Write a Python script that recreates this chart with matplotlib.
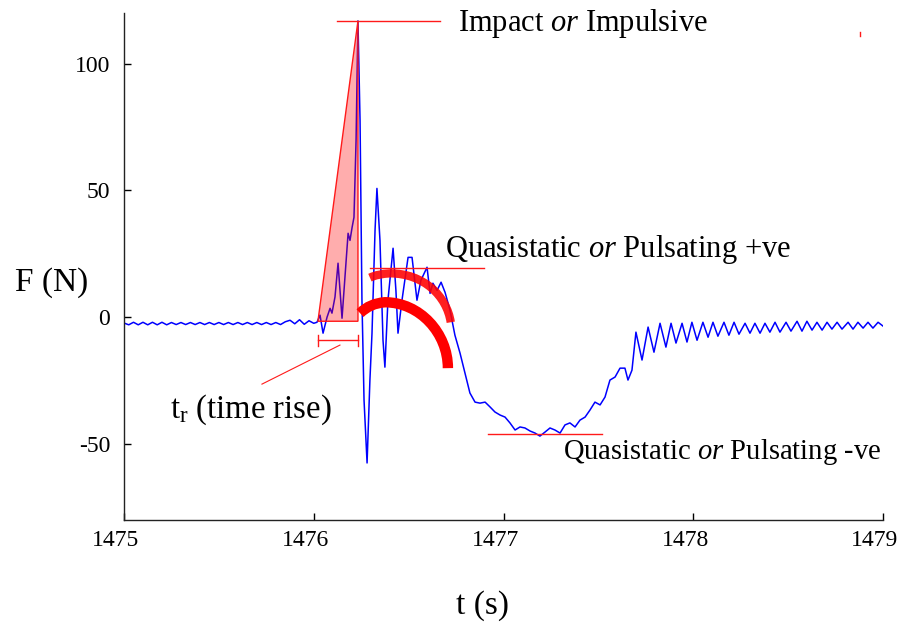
import numpy as np
import matplotlib
matplotlib.use("Agg")
import matplotlib.pyplot as plt
from matplotlib.path import Path
from matplotlib.patches import PathPatch, Polygon
from matplotlib.transforms import ScaledTranslation

# ── Data ───────────────────────────────────────────────────────────────────────
# quiet baseline before the impact
t_base = [1475.000, 1475.025, 1475.050, 1475.075, 1475.100, 1475.125, 1475.150,
          1475.175, 1475.200, 1475.225, 1475.250, 1475.275, 1475.300, 1475.325,
          1475.350, 1475.375, 1475.400, 1475.425, 1475.450, 1475.475, 1475.500,
          1475.525, 1475.550, 1475.575, 1475.600, 1475.625, 1475.650, 1475.675,
          1475.700, 1475.725, 1475.750, 1475.775, 1475.800, 1475.825, 1475.850,
          1475.875, 1475.900, 1475.925, 1475.950, 1475.975, 1476.000]
F_base = [-2.3, -3.0, -2.0, -3.0, -2.0, -3.0, -2.0, -3.0, -2.0, -3.0, -2.1,
          -2.9, -2.1, -2.9, -2.1, -2.9, -2.1, -2.9, -2.1, -2.9, -2.1, -2.9,
          -2.1, -2.9, -2.1, -2.9, -2.1, -2.9, -2.1, -2.9, -2.1, -2.9, -2.1,
          -2.9, -1.8, -1.2, -2.6, -1.0, -2.8, -1.4, -2.4]

# impact, rebound and recovery
t_event = [1476.017, 1476.033, 1476.049, 1476.070, 1476.086, 1476.096, 1476.112,
           1476.128, 1476.149, 1476.181, 1476.191, 1476.202, 1476.212, 1476.223,
           1476.233, 1476.244, 1476.254, 1476.265, 1476.281, 1476.296, 1476.307,
           1476.323, 1476.333, 1476.349, 1476.365, 1476.375, 1476.391, 1476.418,
           1476.433, 1476.444, 1476.465, 1476.497, 1476.518, 1476.544, 1476.565,
           1476.597, 1476.613, 1476.628, 1476.650, 1476.671, 1476.692, 1476.718,
           1476.744, 1476.771, 1476.797, 1476.823, 1476.850, 1476.876, 1476.903,
           1476.929, 1476.955, 1476.982, 1477.008, 1477.034, 1477.061, 1477.087,
           1477.113, 1477.140, 1477.166, 1477.192, 1477.219, 1477.245, 1477.271,
           1477.298, 1477.324, 1477.350, 1477.377, 1477.403, 1477.430, 1477.456,
           1477.482, 1477.509, 1477.535, 1477.561, 1477.588, 1477.614, 1477.640,
           1477.656, 1477.677]
F_event = [-2.0, 0.8, -6.3, 0.0, 3.5, 1.6, 8.0,
           21.3, -0.4, 33.1, 30.3, 35.4, 39.4, 69.7,
           116.9, 77.6, 6.7, -32.7, -57.5, -24.8, -6.3,
           34.3, 50.8, 30.3, -9.1, -19.7, 6.7, 27.2,
           10.6, -6.3, 6.7, 23.6, 23.6, 6.7, 14.6,
           19.7, 9.4, 13.4, 10.6, 13.8, 9.8, 2.8,
           -7.1, -14.2, -22.0, -29.9, -33.5, -33.9, -33.5,
           -35.4, -37.4, -38.6, -39.4, -41.7, -44.5, -43.3,
           -43.7, -44.9, -45.7, -46.9, -45.3, -43.7, -44.5,
           -45.7, -42.5, -41.7, -43.3, -40.6, -39.4, -36.6,
           -33.5, -34.6, -31.5, -24.8, -23.6, -20.1, -20.1,
           -24.8, -20.9]

# decaying ringing back to rest
t_tail = [1477.698, 1477.730, 1477.762, 1477.793, 1477.825, 1477.856, 1477.883,
          1477.909, 1477.941, 1477.967, 1477.993, 1478.020, 1478.051, 1478.078,
          1478.104, 1478.130, 1478.162, 1478.188, 1478.215, 1478.241, 1478.273,
          1478.299, 1478.325, 1478.352, 1478.378, 1478.404, 1478.431, 1478.457,
          1478.489, 1478.515, 1478.547, 1478.573, 1478.599, 1478.626, 1478.652,
          1478.679, 1478.705, 1478.731, 1478.758, 1478.784, 1478.816, 1478.842,
          1478.868, 1478.895, 1478.921, 1478.947, 1478.974, 1479.000]
F_tail = [-5.9, -16.9, -3.9, -13.8, -2.4, -11.8, -2.4,
          -10.2, -2.4, -9.8, -2.0, -9.1, -2.0, -7.9,
          -2.0, -7.5, -2.0, -7.1, -2.0, -6.7, -2.4,
          -6.3, -2.4, -6.3, -2.4, -5.9, -2.0, -5.9,
          -2.0, -5.5, -1.6, -5.5, -1.6, -5.1, -2.0,
          -5.1, -2.0, -4.7, -2.0, -4.7, -2.0, -4.7,
          -2.0, -4.3, -2.0, -4.3, -2.0, -3.5]

X_TICKS = [1475, 1476, 1477, 1478, 1479]
Y_TICKS = [-50, 0, 50, 100]

# annotation geometry (data units)
RISE_START, PEAK_T, PEAK_F, RISE_BASE = 1476.022, 1476.233, 116.9, -1.6
PEAK_LINE = (1476.122, 1476.665)
TR_LEVEL = -9.1
TR_LEADER = ((1475.727, -26.4), (1476.138, -11.0))
POS_LEVEL, POS_SPAN = 19.3, (1476.296, 1476.897)
NEG_LEVEL, NEG_SPAN = -46.1, (1476.918, 1477.519)
# quadratic lead-in, then a quarter-ellipse bend
ARC_POS = [(1476.296, 15.6), (1476.338, 17.1), (1476.401, 17.3),
           (1476.580, 17.3), (1476.701, 8.3), (1476.722, -2.0)]
ARC_NEG = [(1476.244, 1.6), (1476.296, 5.5), (1476.375, 5.9),
           (1476.559, 5.9), (1476.707, -6.3), (1476.707, -20.1)]

# ── Style ──────────────────────────────────────────────────────────────────────
plt.rcParams["font.family"] = ["Liberation Serif", "DejaVu Serif"]
plt.rcParams["mathtext.fontset"] = "custom"
plt.rcParams["mathtext.rm"] = "Liberation Serif"
plt.rcParams["mathtext.it"] = "Liberation Serif:italic"
plt.rcParams["axes.unicode_minus"] = False

RED = "#ff1a1a"

fig = plt.figure(figsize=(9.07, 6.23), dpi=100)
ax = fig.add_axes([124 / 907, 1 - 520 / 623, (883 - 124) / 907, (520 - 13) / 623])

t_all = t_base + t_event + t_tail
F_all = F_base + F_event + F_tail
ax.plot(t_all, F_all, color="#0000ff", lw=1.1, solid_joinstyle="round", zorder=2)

# rise-time triangle
tri = Polygon([(RISE_START, RISE_BASE), (PEAK_T, PEAK_F), (PEAK_T, RISE_BASE)],
              closed=True, facecolor=(1, 0, 0, 0.32), edgecolor=RED, lw=1.0, zorder=3)
ax.add_patch(tri)

# thin reference lines
ax.plot(PEAK_LINE, [PEAK_F, PEAK_F], color=RED, lw=1.0, zorder=3)
ax.plot(POS_SPAN, [POS_LEVEL, POS_LEVEL], color=RED, lw=1.0, zorder=3)
ax.plot(NEG_SPAN, [NEG_LEVEL, NEG_LEVEL], color=RED, lw=1.0, zorder=3)

# t_r bracket
ax.plot([RISE_START, PEAK_T], [TR_LEVEL, TR_LEVEL], color=RED, lw=1.0, zorder=3)
for tt in (RISE_START, PEAK_T):
    ax.plot([tt, tt], [TR_LEVEL - 2.2, TR_LEVEL + 2.2], color=RED, lw=1.0, zorder=3)
ax.plot([TR_LEADER[0][0], TR_LEADER[1][0]], [TR_LEADER[0][1], TR_LEADER[1][1]],
        color=RED, lw=0.8, zorder=3)

# thick arcs
codes = [Path.MOVETO, Path.CURVE3, Path.CURVE3, Path.CURVE4, Path.CURVE4, Path.CURVE4]
ax.add_patch(PathPatch(Path(ARC_POS, codes), facecolor="none", edgecolor="red",
                       lw=6.0, alpha=0.88, capstyle="butt", zorder=4))
ax.add_patch(PathPatch(Path(ARC_NEG, codes), facecolor="none", edgecolor="red",
                       lw=7.5, capstyle="butt", zorder=4))

# stray mark top right
ax.plot([1478.878, 1478.878], [110.8, 112.6], color=RED, lw=1.0)

# annotation texts
ax.text(1476.760, 116.0, r"Impact $\mathit{or}$ Impulsive", fontsize=22,
        ha="left", va="center")
ax.text(1476.692, 26.8, r"Quasistatic $\mathit{or}$ Pulsating +ve", fontsize=22,
        ha="left", va="center")
ax.text(1477.314, -53.1, r"Quasistatic $\mathit{or}$ Pulsating -ve", fontsize=20.6,
        ha="left", va="center")
ax.text(1475.242, -36.6, r"t$_\mathrm{r}$ (time rise)", fontsize=23.5,
        ha="left", va="center")

# axes
ax.set_xlim(1475, 1479)
ax.set_ylim(-80, 120)
ax.set_xticks(X_TICKS)
ax.set_xticklabels([str(v) for v in X_TICKS])
ax.set_yticks(Y_TICKS)
ax.set_yticklabels([str(v) for v in Y_TICKS])
ax.tick_params(axis="both", direction="in", length=5, width=1.0, labelsize=17,
               colors="black")
ax.tick_params(axis="y", pad=10)
ax.tick_params(axis="x", pad=7)
for lab in ax.get_xticklabels():
    lab.set_transform(lab.get_transform() + ScaledTranslation(-0.08, 0, fig.dpi_scale_trans))
for side in ("top", "right"):
    ax.spines[side].set_visible(False)
for side in ("left", "bottom"):
    ax.spines[side].set_color("#222222")
    ax.spines[side].set_linewidth(1.0)

fig.text(15 / 907, 1 - 283 / 623, "F (N)", fontsize=24, ha="left", va="center")
fig.text(483 / 907, 1 - 606 / 623, "t (s)", fontsize=24, ha="center", va="center")

fig.savefig("out.png", dpi=100)
